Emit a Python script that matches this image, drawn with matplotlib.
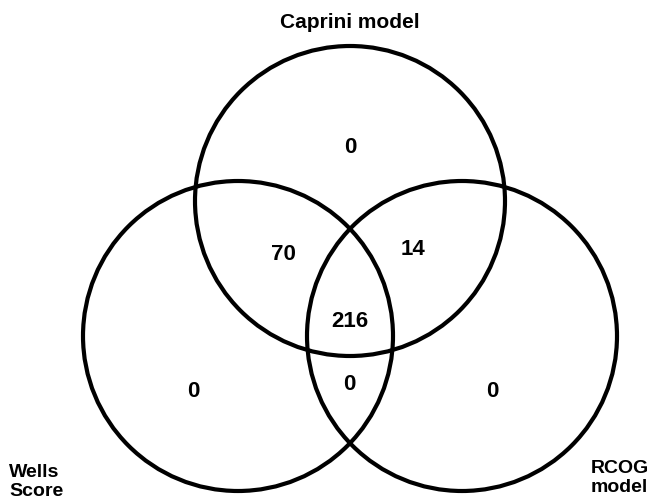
import matplotlib.pyplot as plt
from matplotlib.patches import Circle

# set names and region counts
set_names = ['Caprini model', 'Wells\nScore', 'RCOG\nmodel']
region_keys = ['C', 'CW', 'CR', 'CWR', 'W', 'WR', 'R']
region_counts = [0, 70, 14, 216, 0, 0, 0]

# layout (pixel space, y down)
centers = [(350, 202), (238, 337), (462, 337)]
radius = 155
count_pos = {'C': (350, 148), 'CW': (283, 254), 'CR': (413, 250), 'CWR': (350, 322),
             'W': (193, 392), 'WR': (349, 385), 'R': (492, 392)}

plt.rcParams['font.family'] = ['Liberation Sans', 'DejaVu Sans']
num_font = ['Liberation Sans Narrow', 'Liberation Sans', 'DejaVu Sans']

fig = plt.figure(figsize=(6.52, 5.02), dpi=100)
ax = fig.add_axes([0, 0, 1, 1])
ax.set_xlim(0, 652)
ax.set_ylim(502, 0)
ax.set_aspect('equal')
ax.axis('off')

for c in centers:
    ax.add_patch(Circle(c, radius, fill=False, edgecolor='black', linewidth=3))

for k, v in zip(region_keys, region_counts):
    x, y = count_pos[k]
    ax.text(x, y, str(v), ha='center', va='center', fontsize=16, fontweight='bold',
            family=num_font)

ax.text(350, 22, set_names[0], ha='center', va='center', fontsize=15, fontweight='bold')
ax.text(9, 482, set_names[1], ha='left', va='center', fontsize=14, fontweight='bold',
        linespacing=1.15)
ax.text(591, 478, set_names[2], ha='left', va='center', fontsize=14, fontweight='bold',
        linespacing=1.15)

fig.savefig('out.png', dpi=100, facecolor='white')
